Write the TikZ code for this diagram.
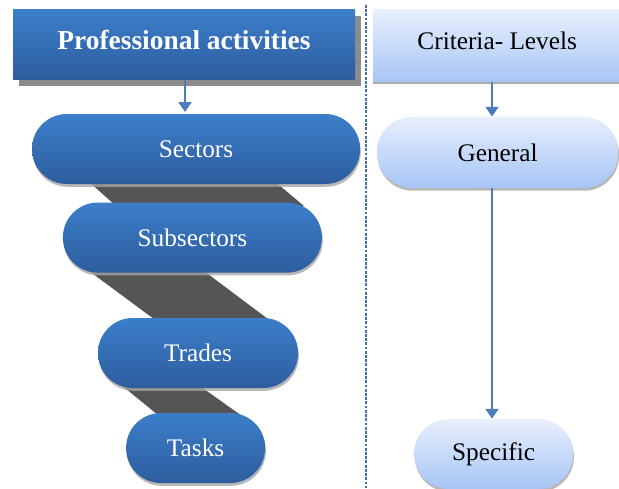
\documentclass[tikz,border=0pt]{standalone}
\usepackage{fontspec}
\setmainfont{Liberation Serif}
\usepackage{xcolor}
\usetikzlibrary{positioning,calc,arrows.meta,shadows}

\definecolor{darktop}{RGB}{60,126,202}
\definecolor{darkbot}{RGB}{45,93,158}
\definecolor{lighttop}{RGB}{232,239,253}
\definecolor{lightbot}{RGB}{166,197,246}
\definecolor{arrowblue}{RGB}{74,126,187}
\definecolor{bandgray}{RGB}{85,85,85}

\begin{document}
\begin{tikzpicture}[
    dark/.style={top color=darktop, bottom color=darkbot, text=white,
        font=\fontsize{18}{21}\selectfont},
    light/.style={top color=lighttop, bottom color=lightbot, text=black,
        font=\fontsize{18}{21}\selectfont},
    pill/.style={rectangle, rounded corners=0.87cm, minimum height=1.75cm,
        drop shadow={shadow xshift=0.02cm, shadow yshift=-0.07cm, fill=black!35, opacity=0.8}},
    flow/.style={draw=arrowblue, line width=1.8pt, -{Triangle[length=7pt,width=9pt]}}
]
    \useasboundingbox (0,0) rectangle (15.475,12.2);

    % gray bands between the levels
    \fill[bandgray] (2.175,7.7) -- (6.825,7.7) -- (7.6,7.05) -- (2.9,7.05) -- cycle;
    \fill[bandgray] (2.125,5.5) -- (5.0,5.5) -- (6.8,4.15) -- (3.95,4.15) -- cycle;
    \fill[bandgray] (3.0,2.6) -- (4.925,2.6) -- (6.05,1.8) -- (3.98,1.8) -- cycle;

    % left column
    \node[dark, rectangle, minimum width=8.55cm, minimum height=1.75cm, text depth=0.25cm,
        drop shadow={shadow xshift=0.15cm, shadow yshift=-0.15cm, fill=black!45, opacity=1}]
        (prof) at (4.6,11.075) {\fontsize{19.5}{22}\selectfont\bfseries Professional activities};
    \node[dark, pill, minimum width=8.2cm] (sec) at (4.9,8.475) {Sectors};
    \node[dark, pill, minimum width=6.475cm] (subsec) at (4.81,6.26) {Subsectors};
    \node[dark, pill, minimum width=5.0cm] (trades) at (4.95,3.375) {Trades};
    \node[dark, pill, minimum width=3.475cm] (tasks) at (4.89,1.0) {Tasks};

    \draw[flow] (4.625,10.2) -- (4.625,9.4);

    % separator
    \coordinate (septop) at (9.15,12.075);
    \coordinate (sepbot) at (9.15,0);
    \draw[arrowblue!90!black, line width=1pt, dash pattern=on 2pt off 1pt] (septop) -- (sepbot);

    % right column
    \node[light, rectangle, minimum width=6.2cm, minimum height=1.8cm, text depth=0.25cm,
        drop shadow={shadow xshift=0cm, shadow yshift=-0.06cm, fill=black!40, opacity=0.8}]
        (crit) at (12.43,11.05) {Criteria- Levels};
    \node[light, pill, minimum width=6.03cm, minimum height=1.775cm] (gen) at (12.44,8.39) {General};
    \node[light, pill, minimum width=3.975cm] (spec) at (12.34,0.85) {Specific};

    \draw[flow] (crit.south -| 12.3,0) -- (gen.north -| 12.3,0);
    \draw[flow] (gen.south -| 12.3,0) -- (spec.north -| 12.3,0);
\end{tikzpicture}
\end{document}
